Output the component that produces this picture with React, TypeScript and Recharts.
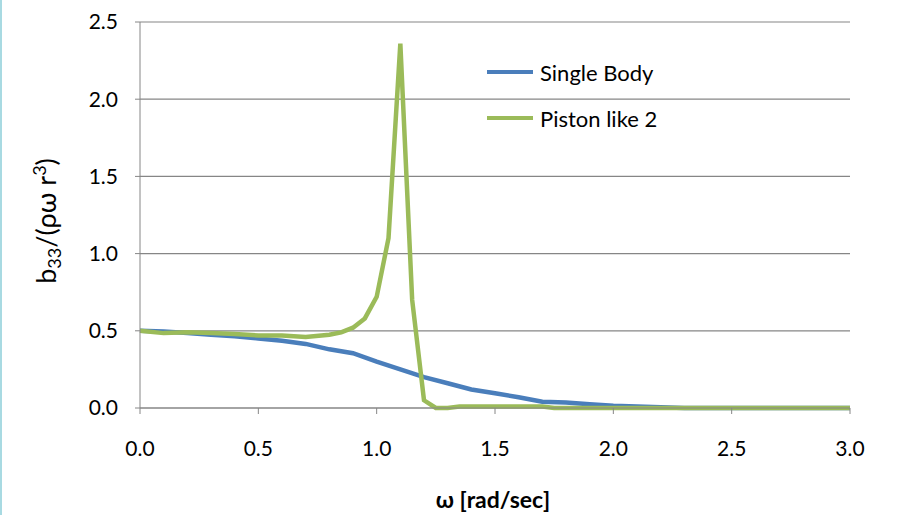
import { LineChart, Line, XAxis, YAxis, CartesianGrid } from 'recharts';

const omegaSingle = [0, 0.1, 0.2, 0.3, 0.4, 0.5, 0.6, 0.7, 0.8, 0.9, 1.0, 1.1, 1.2, 1.3, 1.4, 1.5, 1.6, 1.7, 1.8, 1.9, 2.0, 2.1, 2.2, 2.3, 2.4, 2.5, 2.6, 2.7, 2.8, 2.9, 3.0];
const singleBody = [0.5, 0.495, 0.485, 0.475, 0.465, 0.45, 0.435, 0.415, 0.38, 0.355, 0.3, 0.25, 0.2, 0.16, 0.12, 0.095, 0.07, 0.04, 0.035, 0.025, 0.015, 0.01, 0.005, 0, 0, 0, 0, 0, 0, 0, 0];

const omegaPiston = [0, 0.1, 0.2, 0.3, 0.4, 0.5, 0.6, 0.7, 0.8, 0.85, 0.9, 0.95, 1.0, 1.05, 1.1, 1.15, 1.2, 1.25, 1.3, 1.35, 1.4, 1.5, 1.6, 1.7, 1.75, 1.8, 1.9, 2.0, 2.2, 2.4, 2.6, 2.8, 3.0];
const pistonLike2 = [0.5, 0.485, 0.49, 0.485, 0.48, 0.47, 0.47, 0.46, 0.475, 0.49, 0.52, 0.58, 0.72, 1.1, 2.36, 0.7, 0.05, 0.0, 0.0, 0.01, 0.01, 0.01, 0.01, 0.01, 0.0, 0, 0, 0, 0, 0, 0, 0, 0];

const xTicks = [0, 0.5, 1.0, 1.5, 2.0, 2.5, 3.0];
const yTicks = [0, 0.5, 1.0, 1.5, 2.0, 2.5];

const seriesNames = ['Single Body', 'Piston like 2'];
const seriesColors = ['#4a7ebb', '#9bbb59'];

const singleData = omegaSingle.map((w, i) => ({ w, v: singleBody[i] }));
const pistonData = omegaPiston.map((w, i) => ({ w, v: pistonLike2[i] }));

const font = 'Lato, "Open Sans", sans-serif';

const YLabel = () => (
  <text
    transform="rotate(-90, 56, 221)"
    x={56}
    y={221}
    textAnchor="middle"
    fontFamily={font}
    fontSize={27}
    fill="#000"
  >
    b<tspan fontSize={18} dy={5}>33</tspan>
    <tspan fontSize={27} dy={-5}>/(ρω r</tspan>
    <tspan fontSize={18} dy={-10}>3</tspan>
    <tspan fontSize={27} dy={10}>)</tspan>
  </text>
);

const XLabel = (props: any) => {
  const vb = props.viewBox || { x: 140, width: 710 };
  return (
    <text x={vb.x + vb.width / 2 - 2} y={508} textAnchor="middle" fontFamily={font} fontSize={23} fontWeight="bold" fill="#000">
      ω [rad/sec]
    </text>
  );
};

const LegendBox = () => (
  <div style={{ position: 'absolute', left: 487, top: 49, fontFamily: font, fontSize: 22, color: '#000' }}>
    {seriesNames.map((name, i) => (
      <div key={name} style={{ display: 'flex', alignItems: 'center', height: 46 }}>
        <span style={{ display: 'inline-block', width: 46, height: 4, background: seriesColors[i], marginRight: 7 }} />
        <span>{name}</span>
      </div>
    ))}
  </div>
);

export default function App() {
  return (
    <div style={{ position: 'absolute', left: 0, top: 0, width: 913, height: 515, background: '#fff' }}>
      <div style={{ position: 'absolute', left: 0, top: 0, width: 2, height: 515, background: '#a8dae2' }} />
      <LineChart width={913} height={515} margin={{ top: 22, right: 63, bottom: 77, left: 80 }}>
        <CartesianGrid vertical={false} stroke="#868686" strokeWidth={1.2} />
        <XAxis
          type="number"
          dataKey="w"
          domain={[0, 3]}
          ticks={xTicks}
          allowDuplicatedCategory={false}
          tickFormatter={(v: number) => v.toFixed(1)}
          stroke="#868686"
          tickSize={6}
          tickMargin={27}
          tick={{ fill: '#000', fontFamily: font, fontSize: 21 }}
          label={<XLabel />}
        />
        <YAxis
          type="number"
          domain={[0, 2.5]}
          ticks={yTicks}
          width={60}
          tickFormatter={(v: number) => v.toFixed(1)}
          stroke="#868686"
          tickSize={5}
          tickMargin={17}
          tick={{ fill: '#000', fontFamily: font, fontSize: 21 }}
          label={<YLabel />}
        />
        <Line data={singleData} dataKey="v" name={seriesNames[0]} stroke={seriesColors[0]} strokeWidth={4.5} dot={false} isAnimationActive={false} />
        <Line data={pistonData} dataKey="v" name={seriesNames[1]} stroke={seriesColors[1]} strokeWidth={4.5} dot={false} isAnimationActive={false} />
      </LineChart>
      <LegendBox />
    </div>
  );
}
